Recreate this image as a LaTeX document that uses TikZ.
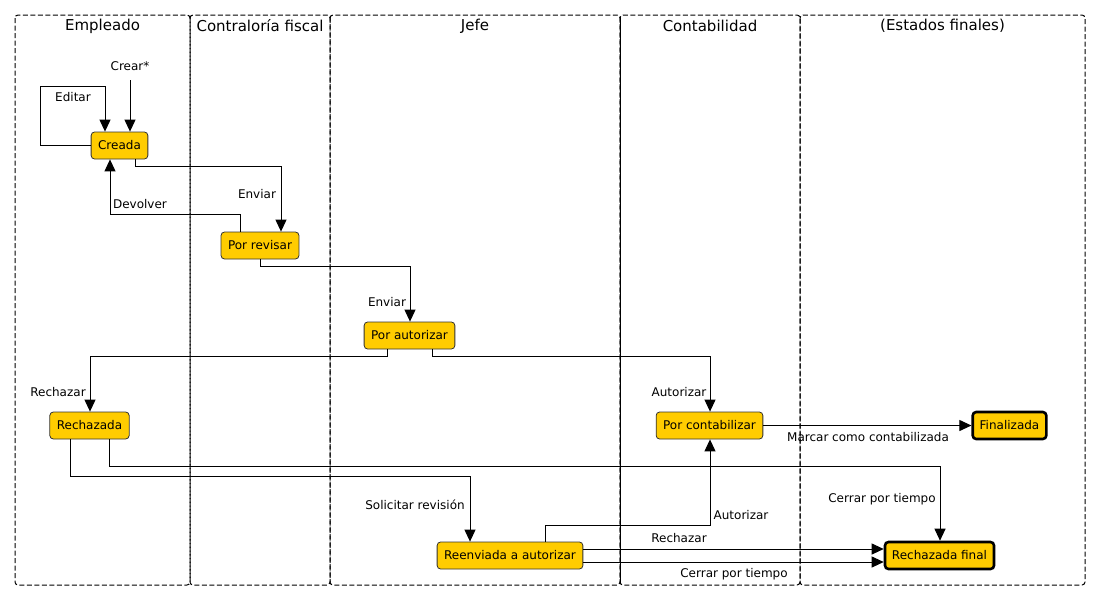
\documentclass[tikz,border=0pt]{standalone}
\usepackage{fontspec}
\setmainfont{DejaVu Sans}
\usetikzlibrary{arrows.meta}
\begin{document}
\begin{tikzpicture}[x=1pt,y=-1pt,
  lane/.style={draw=black,line width=1pt,dash pattern=on 5pt off 2.5pt,rounded corners=3pt},
  lanetitle/.style={font=\fontsize{15}{18}\selectfont,inner sep=0pt,anchor=center},
  state/.style={draw=black!80,line width=0.8pt,fill=stategold,rounded corners=3.5pt,minimum height=27pt,inner xsep=7pt,inner ysep=0pt,font=\fontsize{12}{14}\selectfont},
  final/.style={state,draw=black,line width=2.6pt},
  lbl/.style={font=\fontsize{12}{14}\selectfont,inner sep=0pt,anchor=center},
  arr/.style={draw=black,line width=1pt,-{Triangle[length=12pt,width=11pt]}},
  ln/.style={draw=black,line width=1pt}]
\definecolor{stategold}{HTML}{FFCC00}
\useasboundingbox (0,0) rectangle (1100,600);
% lanes
\draw[lane] (15,15) rectangle (190,585);
\draw[lane] (190,15) rectangle (330,585);
\draw[lane] (330,15) rectangle (620,585);
\draw[lane] (620,15) rectangle (800,585);
\draw[lane] (800,15) rectangle (1085,585);
\draw[ln,line width=0.9pt] (620,17) -- (620,583);
\node[lanetitle] (t1) at (102.5,26) {Empleado};
\node[lanetitle] (t2) at (260,26) {Contraloría fiscal};
\node[lanetitle] (t3) at (475,26) {Jefe};
\node[lanetitle] (t4) at (710,26) {Contabilidad};
\node[lanetitle] (t5) at (942.5,26) {(Estados finales)};
% states
\node[state] (creada) at (119.5,145.5) {Creada};
\node[state] (porrevisar) at (260,245.5) {Por revisar};
\node[state] (porautorizar) at (409.5,335.5) {Por autorizar};
\node[state] (rechazada) at (89.5,425.5) {Rechazada};
\node[state] (porcontabilizar) at (709.5,425.5) {Por contabilizar};
\node[final] (finalizada) at (1009.5,425.5) {Finalizada};
\node[state] (reenviada) at (510,555.5) {Reenviada a autorizar};
\node[final] (rechazadafinal) at (939.5,555.5) {Rechazada final};
\coordinate (start) at (130,80);
% edges
\draw[arr] (start) -- ([xshift=10.5pt]creada.north);
\draw[arr] (creada.west) -- (40,145.5) -- (40,86) -| ([xshift=-14.5pt]creada.north);
\draw[arr] ([xshift=15.5pt]creada.south) -- ++(0,7) -| ([xshift=21pt]porrevisar.north);
\draw[arr] ([xshift=-20pt]porrevisar.north) -- ++(0,-17) -| ([xshift=-9.5pt]creada.south);
\draw[arr] (porrevisar.south) -- ++(0,7) -| ([xshift=0.5pt]porautorizar.north);
\draw[arr] ([xshift=-22.5pt]porautorizar.south) -- ++(0,7) -| ([xshift=0.5pt]rechazada.north);
\draw[arr] ([xshift=22.5pt]porautorizar.south) -- ++(0,7) -| ([xshift=0.5pt]porcontabilizar.north);
\draw[arr] (porcontabilizar.east) -- (finalizada.west);
\draw[arr] ([xshift=19.5pt]rechazada.south) -- ++(0,27) -| ([xshift=0.5pt]rechazadafinal.north);
\draw[arr] ([xshift=-19.5pt]rechazada.south) -- ++(0,37) -| ([xshift=-40pt]reenviada.north);
\draw[arr] ([xshift=35pt]reenviada.north) -- ++(0,-16) -| ([xshift=0.5pt]porcontabilizar.south);
\draw[arr] ([yshift=6.5pt]reenviada.east) -- ([yshift=6.5pt]rechazadafinal.west);
\draw[arr] ([yshift=-6.5pt]reenviada.east) -- ([yshift=-6.5pt]rechazadafinal.west);
% labels
\node[lbl] (l1) at (130,66) {Crear*};
\node[lbl] (l2) at (73,97) {Editar};
\node[lbl] (l3) at (257,194) {Enviar};
\node[lbl] (l4) at (140,204) {Devolver};
\node[lbl] (l5) at (387,302) {Enviar};
\node[lbl] (l6) at (58,392) {Rechazar};
\node[lbl] (l7) at (679,392) {Autorizar};
\node[lbl] (l8) at (868,437) {Marcar como contabilizada};
\node[lbl] (l9) at (882,499) {Cerrar por tiempo};
\node[lbl] (l10) at (415,505) {Solicitar revisión};
\node[lbl] (l11) at (741,515) {Autorizar};
\node[lbl] (l12) at (679,538) {Rechazar};
\node[lbl] (l13) at (734,574) {Cerrar por tiempo};
\end{tikzpicture}
\end{document}
